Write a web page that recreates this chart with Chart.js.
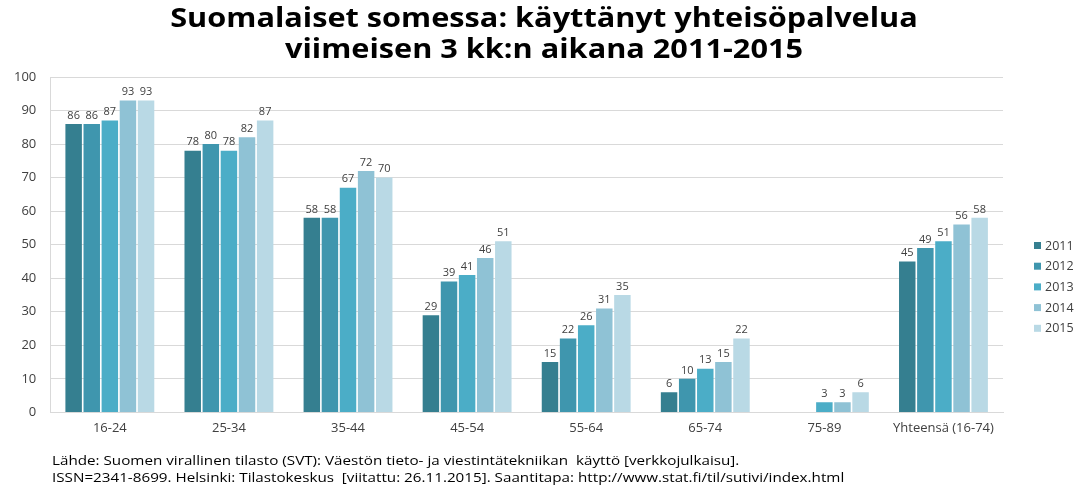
<!DOCTYPE html>
<html>
<head>
<meta charset="utf-8">
<script src="https://cdn.jsdelivr.net/npm/chart.js@4/dist/chart.umd.min.js"></script>
<style>
  html, body { margin: 0; padding: 0; background: #fff; }
  #wrap { position: relative; width: 1086px; height: 487px; }
</style>
</head>
<body>
<div id="wrap"><canvas id="c" width="1086" height="487"></canvas></div>
<script>
// Age groups on the x axis
const categories = ['16-24', '25-34', '35-44', '45-54', '55-64', '65-74', '75-89', 'Yhteensä (16-74)'];
const years = ['2011', '2012', '2013', '2014', '2015'];

// Share (%) who used a social network service in the last 3 months
const v2011 = [86, 78, 58, 29, 15, 6, null, 45];
const v2012 = [86, 80, 58, 39, 22, 10, null, 49];
const v2013 = [87, 78, 67, 41, 26, 13, 3, 51];
const v2014 = [93, 82, 72, 46, 31, 15, 3, 56];
const v2015 = [93, 87, 70, 51, 35, 22, 6, 58];

const yTicks = [0, 10, 20, 30, 40, 50, 60, 70, 80, 90, 100];

const titleLines = ['Suomalaiset somessa: käyttänyt yhteisöpalvelua', 'viimeisen 3 kk:n aikana 2011-2015'];
const sourceLines = [
  'Lähde: Suomen virallinen tilasto (SVT): Väestön tieto- ja viestintätekniikan  käyttö [verkkojulkaisu].',
  'ISSN=2341-8699. Helsinki: Tilastokeskus  [viitattu: 26.11.2015]. Saantitapa: http://www.stat.fi/til/sutivi/index.html'
];

const colors = ['#357f90', '#3f96ae', '#4badc7', '#8fc2d5', '#b9d9e5'];
const series = [v2011, v2012, v2013, v2014, v2015];

const textFont = "'Open Sans', 'DejaVu Sans', sans-serif";

// draw a line of text, widened horizontally by sx around its anchor
function wideText(ctx, text, x, y, sx) {
  ctx.save();
  ctx.translate(x, y);
  ctx.scale(sx, 1);
  ctx.fillText(text, 0, 0);
  ctx.restore();
}

// Title, source note, value labels and the side legend
const decorations = {
  id: 'decorations',
  afterDatasetsDraw(chart) {
    const ctx = chart.ctx;
    ctx.save();
    // value labels above bars
    ctx.font = "11px " + textFont;
    ctx.fillStyle = '#404040';
    ctx.textAlign = 'center';
    ctx.textBaseline = 'bottom';
    chart.data.datasets.forEach((ds, i) => {
      const meta = chart.getDatasetMeta(i);
      meta.data.forEach((bar, j) => {
        const v = ds.data[j];
        if (v === null || v === undefined) return;
        ctx.fillText(String(v), bar.x, bar.y - 3);
      });
    });
    ctx.restore();
  },
  afterDraw(chart) {
    const ctx = chart.ctx;
    ctx.save();
    // title
    ctx.fillStyle = '#000';
    ctx.textAlign = 'center';
    ctx.textBaseline = 'middle';
    ctx.font = "bold 26px " + textFont;
    wideText(ctx, titleLines[0], 544, 20, 1.18);
    wideText(ctx, titleLines[1], 544, 51, 1.18);
    // source note
    ctx.textAlign = 'left';
    ctx.font = "13px " + textFont;
    wideText(ctx, sourceLines[0], 52, 461, 1.17);
    wideText(ctx, sourceLines[1], 52, 478, 1.17);
    // legend
    const lx = 1034, ly0 = 246, step = 20.7;
    chart.data.datasets.forEach((ds, i) => {
      const y = ly0 + i * step;
      ctx.fillStyle = ds.backgroundColor;
      ctx.fillRect(lx, y - 4, 7, 7);
      ctx.fillStyle = '#404040';
      ctx.font = "12.5px " + textFont;
      ctx.textBaseline = 'middle';
      ctx.fillText(ds.label, lx + 11, y);
    });
    ctx.restore();
  }
};

new Chart(document.getElementById('c'), {
  type: 'bar',
  data: {
    labels: categories,
    datasets: years.map((y, i) => ({
      label: y,
      data: series[i],
      backgroundColor: colors[i],
      categoryPercentage: 0.76,
      barPercentage: 0.91
    }))
  },
  options: {
    responsive: false,
    animation: false,
    layout: { padding: { top: 77, right: 83, bottom: 43, left: 0 } },
    plugins: {
      legend: { display: false },
      tooltip: { enabled: false },
      title: { display: false }
    },
    scales: {
      x: {
        grid: { display: false, drawTicks: false },
        border: { color: '#d9d9d9' },
        ticks: { color: '#404040', font: { family: textFont, size: 13 }, padding: 8 }
      },
      y: {
        min: 0,
        max: 100,
        afterBuildTicks(axis) { axis.ticks = yTicks.map(v => ({ value: v })); },
        grid: { color: '#d9d9d9', drawTicks: false },
        border: { color: '#d9d9d9' },
        ticks: { color: '#404040', font: { family: textFont, size: 13 }, padding: 14 }
      }
    }
  },
  plugins: [decorations]
});
</script>
</body>
</html>
